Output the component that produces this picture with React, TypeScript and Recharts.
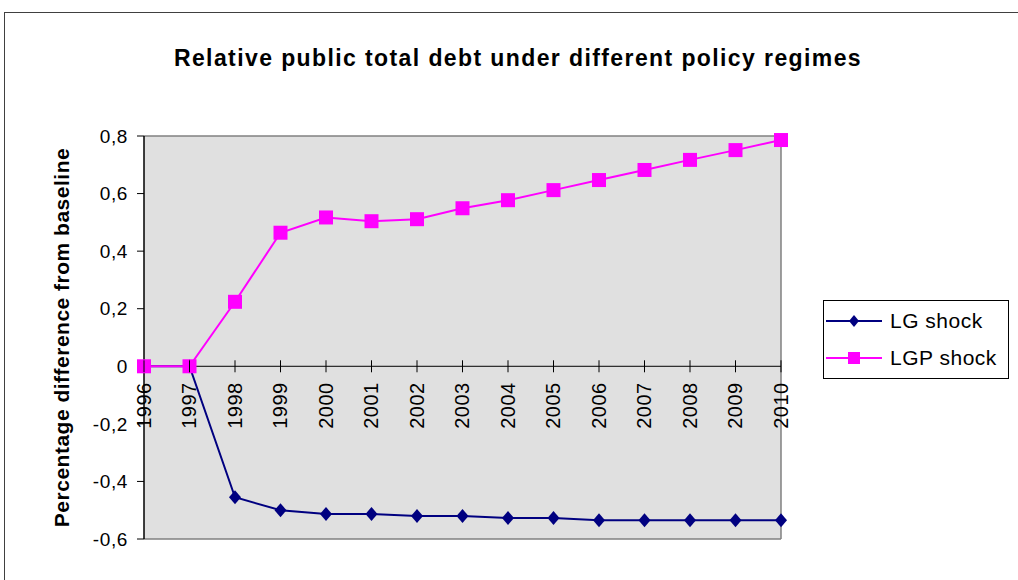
import React from "react";
import {
  CartesianGrid,
  Label,
  Line,
  LineChart,
  ReferenceLine,
  XAxis,
  YAxis,
} from "recharts";

const years = [
  1996, 1997, 1998, 1999, 2000, 2001, 2002, 2003, 2004, 2005, 2006, 2007, 2008,
  2009, 2010,
];
const lgShock = [
  0, 0, -0.455, -0.5, -0.513, -0.513, -0.52, -0.52, -0.527, -0.527, -0.535,
  -0.535, -0.535, -0.535, -0.535,
];
const lgpShock = [
  0, 0, 0.224, 0.464, 0.517, 0.504, 0.511, 0.549, 0.577, 0.612, 0.647, 0.682,
  0.717, 0.751, 0.786,
];
const yTicks = [-0.6, -0.4, -0.2, 0, 0.2, 0.4, 0.6, 0.8];

const data = years.map((year, i) => ({
  year,
  lg: lgShock[i],
  lgp: lgpShock[i],
}));

const W = 1018;
const H = 580;
const PLOT = { left: 144, top: 136, right: 781, bottom: 539 };
const Y_MIN = -0.6;
const Y_MAX = 0.8;
// the category axis sits on the zero line, not at the bottom of the plot
const ZERO_Y =
  PLOT.top + ((PLOT.bottom - PLOT.top) * (Y_MAX - 0)) / (Y_MAX - Y_MIN);
const MID_Y = (PLOT.top + PLOT.bottom) / 2;

const FONT = "Arial, 'Liberation Sans', sans-serif";
const NAVY = "#000080";
const MAGENTA = "#FF00FF";

const fmt = (v: number) => (v === 0 ? "0" : v.toFixed(1).replace(".", ","));

const Diamond = (props: any) => {
  const { cx, cy } = props;
  if (cx == null || cy == null) return null;
  return (
    <polygon
      points={`${cx},${cy - 7} ${cx + 6},${cy} ${cx},${cy + 7} ${cx - 6},${cy}`}
      fill={NAVY}
    />
  );
};

const Square = (props: any) => {
  const { cx, cy } = props;
  if (cx == null || cy == null) return null;
  return <rect x={cx - 7} y={cy - 7} width={14} height={14} fill={MAGENTA} />;
};

const YearTick = (props: any) => {
  const { x, payload } = props;
  const ty = ZERO_Y + 16;
  return (
    <g>
      <line x1={x} x2={x} y1={ZERO_Y - 6} y2={ZERO_Y + 6} stroke="#000" />
      <text
        x={x}
        y={ty}
        transform={`rotate(-90, ${x}, ${ty})`}
        textAnchor="end"
        dominantBaseline="central"
        fontSize={20}
        letterSpacing={0.5}
        fontFamily={FONT}
        fill="#000"
      >
        {payload.value}
      </text>
    </g>
  );
};

const LegendItem = ({ label, color, marker }: any) => (
  <div style={{ display: "flex", alignItems: "center", height: 37 }}>
    <svg width={60} height={20}>
      <line x1={2} x2={58} y1={10} y2={10} stroke={color} strokeWidth={2} />
      {marker === "diamond" ? (
        <polygon points="30,4 35,10 30,16 25,10" fill={color} />
      ) : (
        <rect x={24} y={4} width={12} height={12} fill={color} />
      )}
    </svg>
    <span style={{ fontSize: 21, letterSpacing: 0.5, marginLeft: 6 }}>
      {label}
    </span>
  </div>
);

const App: React.FC = () => {
  return (
    <div
      style={{
        position: "absolute",
        left: 0,
        top: 0,
        width: W,
        height: H,
        background: "#fff",
        fontFamily: FONT,
        overflow: "hidden",
      }}
    >
      <div
        style={{
          position: "absolute",
          left: 4,
          top: 12,
          width: W + 10,
          height: H + 10,
          border: "1px solid #404040",
        }}
      />
      <div
        style={{
          position: "absolute",
          left: 0,
          top: 45,
          width: 1036,
          textAlign: "center",
          fontSize: 23,
          letterSpacing: 1.4,
          fontWeight: "bold",
        }}
      >
        Relative public total debt under different policy regimes
      </div>

      <div style={{ position: "absolute", left: 0, top: 0 }}>
        <LineChart
          width={W}
          height={H}
          data={data}
          margin={{
            top: PLOT.top,
            right: W - PLOT.right,
            bottom: H - PLOT.bottom - 1,
            left: 0,
          }}
        >
          <CartesianGrid
            fill="#e0e0e0"
            horizontal={false}
            vertical={false}
            stroke="none"
          />
          <XAxis
            dataKey="year"
            type="number"
            domain={[1996, 2010]}
            ticks={years}
            interval={0}
            height={1}
            axisLine={false}
            tickLine={false}
            tick={<YearTick />}
          />
          <YAxis
            type="number"
            domain={[Y_MIN, Y_MAX]}
            ticks={yTicks}
            interval={0}
            width={PLOT.left}
            axisLine={{ stroke: "#000", strokeWidth: 1.5 }}
            tickLine={{ stroke: "#000" }}
            tickSize={7}
            tickMargin={9}
            tickFormatter={fmt}
            tick={{
              fill: "#000",
              fontSize: 19,
              letterSpacing: 0.6,
              fontFamily: FONT,
            }}
          >
            <Label
              content={() => (
                <text
                  x={61}
                  y={MID_Y}
                  transform={`rotate(-90, 61, ${MID_Y})`}
                  textAnchor="middle"
                  dominantBaseline="central"
                  fontSize={21}
                  letterSpacing={0.5}
                  fontWeight="bold"
                  fontFamily={FONT}
                  fill="#000"
                >
                  Percentage difference from baseline
                </text>
              )}
            />
          </YAxis>
          <ReferenceLine y={Y_MAX} stroke="#808080" strokeWidth={1.5} />
          <ReferenceLine y={Y_MIN} stroke="#808080" strokeWidth={1.5} />
          <ReferenceLine x={2010} stroke="#808080" strokeWidth={1.5} />
          <ReferenceLine y={0} stroke="#000" />
          <Line
            dataKey="lg"
            name="LG shock"
            stroke={NAVY}
            strokeWidth={2}
            dot={<Diamond />}
            isAnimationActive={false}
          />
          <Line
            dataKey="lgp"
            name="LGP shock"
            stroke={MAGENTA}
            strokeWidth={2}
            dot={<Square />}
            isAnimationActive={false}
          />
        </LineChart>
      </div>

      <div
        style={{
          position: "absolute",
          left: 823,
          top: 300,
          width: 184,
          height: 76,
          border: "1px solid #000",
          boxSizing: "content-box",
          paddingTop: 1,
        }}
      >
        <LegendItem label="LG shock" color={NAVY} marker="diamond" />
        <LegendItem label="LGP shock" color={MAGENTA} marker="square" />
      </div>
    </div>
  );
};

export default App;
